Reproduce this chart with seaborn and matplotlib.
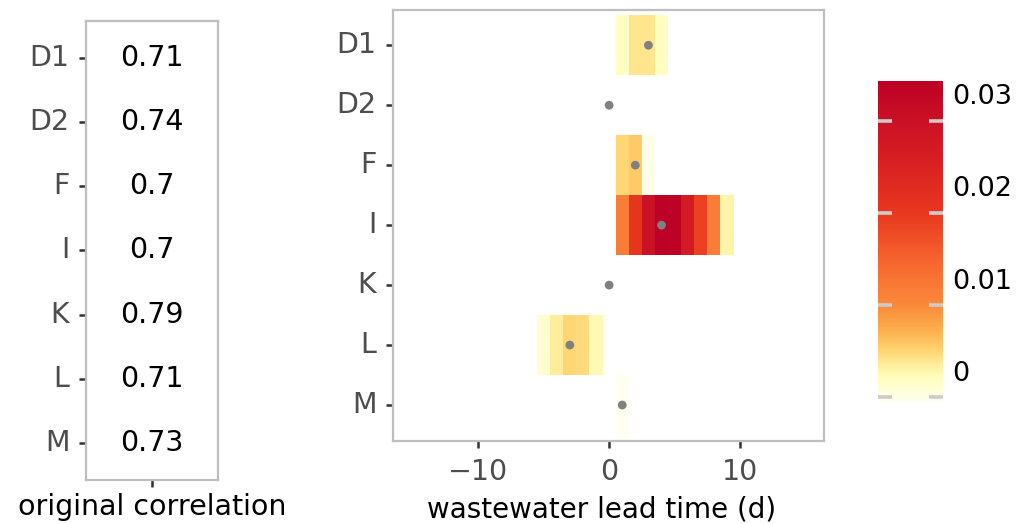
import numpy as np
import pandas as pd
import matplotlib
matplotlib.use("Agg")
import matplotlib.pyplot as plt
from matplotlib.colors import LinearSegmentedColormap, ListedColormap
from matplotlib.transforms import ScaledTranslation, blended_transform_factory
import seaborn as sns

# ---------------------------------------------------------------- data
regions = ["D1", "D2", "F", "I", "K", "L", "M"]
original_corr = [0.71, 0.74, 0.70, 0.70, 0.79, 0.71, 0.73]

# weight assigned to each wastewater lead time (days) per region
d1_lags = [1, 2, 3, 4]
d1_vals = [0.0019, 0.0040, 0.0040, 0.0019]
f_lags = [1, 2, 3]
f_vals = [0.0050, 0.0057, 0.0000]
i_lags = [1, 2, 3, 4, 5, 6, 7, 8, 9]
i_vals = [0.0117, 0.0207, 0.0298, 0.0343, 0.0338, 0.0267, 0.0190, 0.0117, 0.0029]
l_lags = [-5, -4, -3, -2, -1]
l_vals = [0.0012, 0.0035, 0.0050, 0.0047, 0.0026]
m_lags = [1]
m_vals = [-0.0005]

# lead time with the best correlation per region
best_lag = [3, 0, 2, 4, 0, -3, 1]

lag_range = list(range(-16, 17))
x_ticks = [-10, 0, 10]
cbar_ticks = [0, 0.01, 0.02, 0.03]
cbar_labels = ["0", "0.01", "0.02", "0.03"]

# ---------------------------------------------------------------- tables
records = []
for reg, lags, vals in [("D1", d1_lags, d1_vals), ("F", f_lags, f_vals),
                        ("I", i_lags, i_vals), ("L", l_lags, l_vals),
                        ("M", m_lags, m_vals)]:
    for lg, v in zip(lags, vals):
        records.append({"region": reg, "lag": lg, "weight": v})
weights = pd.DataFrame(records)
grid = (weights.pivot(index="region", columns="lag", values="weight")
        .reindex(index=regions, columns=lag_range))

corr_df = pd.DataFrame({"corr": original_corr}, index=regions)

col_pos = {lg: i + 0.5 for i, lg in enumerate(lag_range)}
row_pos = {r: i + 0.5 for i, r in enumerate(regions)}

# ---------------------------------------------------------------- style
sns.set_theme(style="white")
plt.rcParams["font.family"] = ["DejaVu Sans"]

cmap = LinearSegmentedColormap.from_list("ylorrd_soft", [
    (0.00, "#FFFFF0"), (0.08, "#FFFDB8"), (0.11, "#FFEFA0"),
    (0.16, "#FED470"), (0.22, "#FDB04F"), (0.30, "#FA8A3A"),
    (0.42, "#F86A31"), (0.59, "#E8381F"), (0.75, "#D81F22"),
    (0.875, "#CB1125"), (1.00, "#BD0026")])

TICK_C = "#333333"
LAB_C = "#4D4D4D"
SPINE_C = "#BEBEBE"

fig = plt.figure(figsize=(10.17, 5.24), dpi=100)
ax_l = fig.add_axes([0.0846, 0.0840, 0.1298, 0.8760])
ax_m = fig.add_axes([0.3864, 0.1584, 0.4238, 0.8216])
cax = fig.add_axes([0.8633, 0.2328, 0.0639, 0.6126])

# ---------------------------------------------------------------- left panel
sns.heatmap(corr_df, ax=ax_l, annot=True, fmt="g", cbar=False,
            cmap=ListedColormap(["white"]),
            annot_kws={"size": 20.5, "color": "black"})
ax_l.set_ylim(7.08, -0.08)
ax_l.set_xticks([0.5])
ax_l.set_xticklabels([""])
ax_l.set_yticks([row_pos[r] for r in regions])
ax_l.set_yticklabels(regions, rotation=0)
ax_l.set_xlabel("original correlation", fontsize=20.5, color="black")
ax_l.xaxis.set_label_coords(0.5, -0.028)
ax_l.set_ylabel("")

# ---------------------------------------------------------------- middle panel
vmin = np.nanmin(grid.values)
vmax = np.nanmax(grid.values)
sns.heatmap(grid, ax=ax_m, cmap=cmap, vmin=vmin, vmax=vmax,
            cbar=True, cbar_ax=cax)
sns.scatterplot(x=[col_pos[b] for b in best_lag], y=[row_pos[r] for r in regions],
                ax=ax_m, color="#808080", s=40, edgecolor="none", zorder=3)
ax_m.set_xlim(0.0, 32.9)
ax_m.set_ylim(7.1, -0.08)
ax_m.set_xticks([col_pos[t] for t in x_ticks])
ax_m.set_xticklabels(["\u221210", "0", "10"], rotation=0)
ax_m.set_yticks([row_pos[r] for r in regions])
ax_m.set_yticklabels(regions, rotation=0)
ax_m.set_xlabel("wastewater lead time (d)", fontsize=20, color="black")
ax_m.xaxis.set_label_coords(0.484, -0.126)
ax_m.set_ylabel("")

for ax in (ax_l, ax_m):
    for s in ax.spines.values():
        s.set_visible(True)
        s.set_color(SPINE_C)
        s.set_linewidth(1.6)
    ax.tick_params(axis="both", which="major", bottom=True, left=True,
                   length=5, width=1.8, color=TICK_C, labelcolor=LAB_C,
                   labelsize=20.5, pad=7)

# ---------------------------------------------------------------- colorbar
cbar = ax_m.collections[0].colorbar
cbar.outline.set_visible(False)
cbar.set_ticks(cbar_ticks)
cax.set_axisbelow(False)
cax.tick_params(axis="y", which="both", left=True, right=True,
                labelleft=False, labelright=False, direction="in",
                length=10, width=2.6, color="#CCCCCC")
cax.minorticks_off()
lab_tr = blended_transform_factory(cax.transAxes, cax.transData) + \
    ScaledTranslation(0, 0.235, fig.dpi_scale_trans)
for v, t in zip(cbar_ticks, cbar_labels):
    cax.text(1.15, v, t, transform=lab_tr, ha="left", va="center",
             fontsize=19.5, color="black")

fig.savefig("out.png", dpi=100)
